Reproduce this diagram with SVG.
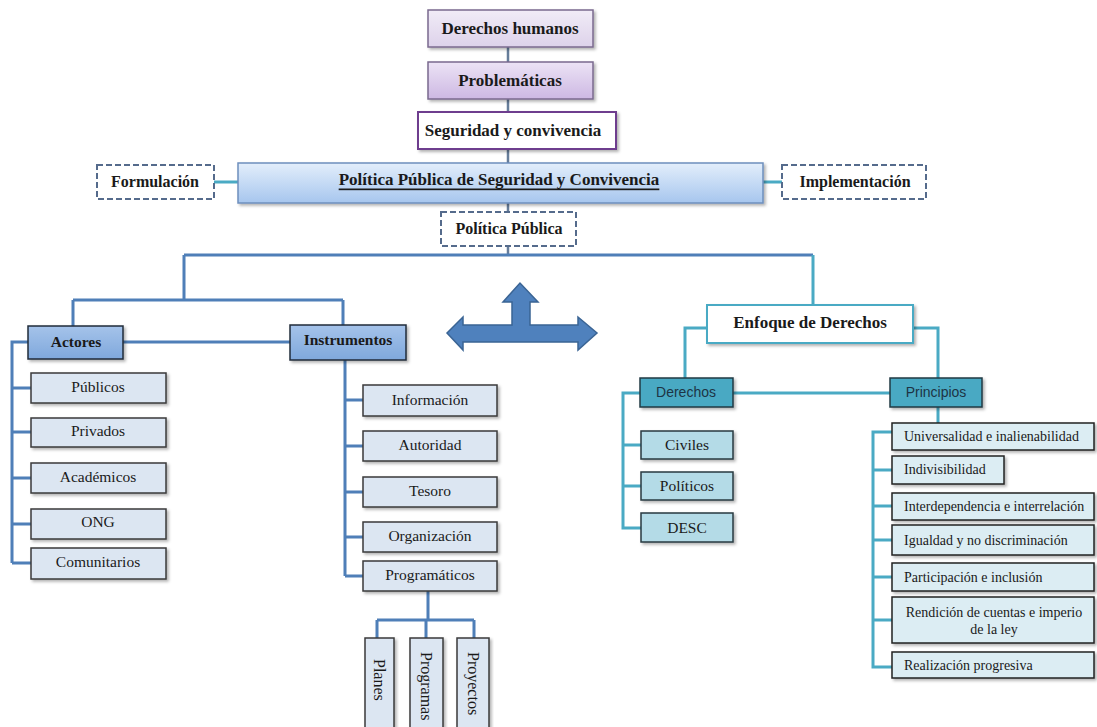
<svg xmlns="http://www.w3.org/2000/svg" width="1097" height="727" viewBox="0 0 1097 727">
<defs>
<linearGradient id="gPurp1" x1="0" y1="0" x2="0" y2="1"><stop offset="0" stop-color="#f1ecf7"/><stop offset="1" stop-color="#ddd2ea"/></linearGradient>
<linearGradient id="gPurp2" x1="0" y1="0" x2="0" y2="1"><stop offset="0" stop-color="#ece3f5"/><stop offset="1" stop-color="#cdb8e3"/></linearGradient>
<linearGradient id="gBlue" x1="0" y1="0" x2="0" y2="1"><stop offset="0" stop-color="#e3eefb"/><stop offset="1" stop-color="#a7c6ee"/></linearGradient>
<linearGradient id="gAct" x1="0" y1="0" x2="0" y2="1"><stop offset="0" stop-color="#a5c3ea"/><stop offset="1" stop-color="#7fa8dc"/></linearGradient>
<filter id="sh" x="-10%" y="-20%" width="125%" height="150%"><feDropShadow dx="2" dy="2" stdDeviation="1.5" flood-color="#000" flood-opacity="0.3"/></filter>
</defs>
<style>
text{font-family:"Liberation Serif","Times New Roman",serif;fill:#1a1a1a;text-anchor:middle;dominant-baseline:central}
.b{font-weight:bold;font-size:17px}
.b16{font-weight:bold;font-size:16px}
.b15{font-weight:bold;font-size:15.5px}
.n{font-size:15.5px}
.v{font-size:16px}
.s{font-size:14px}
.l{text-anchor:start}
.sans{font-family:"Liberation Sans",Arial,sans-serif;font-size:14px;fill:#1d3445}
.dash{fill:#fff;stroke:#556b8c;stroke-width:2;stroke-dasharray:6 3}
.act{fill:url(#gAct);stroke:#1f2b3a;stroke-width:1.5;filter:url(#sh)}
.ch{fill:#dce6f2;stroke:#3a3a3a;stroke-width:1.5;filter:url(#sh)}
.teal{fill:#4aa9c3;stroke:#1f3a44;stroke-width:1.5;filter:url(#sh)}
.tch{fill:#b4dbe7;stroke:#2a3a40;stroke-width:1.5;filter:url(#sh)}
.pch{fill:#dcedf3;stroke:#222;stroke-width:1.5;filter:url(#sh)}
.cg{fill:none;stroke:#667d9a;stroke-width:2.5}
.cb{fill:none;stroke:#4f7fb8;stroke-width:3}
.ct{fill:none;stroke:#4aaac4;stroke-width:3}
</style>
<g id="connectors">
<path class="cg" d="M508 47V62M508 99V112M508 149V163M508 203V212M508 246V255"/>
<path class="ct" d="M214 182H238M763 182H782"/>
<path class="cb" d="M184 255H813M184 255V300M73 300H343M73 300V326M343 300V326M123 342H290"/>
<path class="cb" d="M28 342H12V563M12 388H31M12 432H31M12 478H31M12 524H31M12 563H31"/>
<path class="cb" d="M345 360V576M345 400H363M345 446H363M345 492H363M345 537H363M345 576H363"/>
<path class="cb" d="M428 591V620M377 620H474M377 620V638M426 620V638M474 620V638"/>
<path class="ct" d="M813 255V305M707 328H685V378M913 328H938V378M733 393H890"/>
<path class="ct" d="M640 393H623V528H641M623 445H641M623 486H641"/>
<path class="ct" d="M938 407V423M892 432H873V667H892M873 470H892M873 506H892M873 540H892M873 577H892M873 620H892"/>
</g>
<g id="n-derechos-humanos"><rect x="428" y="10" width="165" height="37" fill="url(#gPurp1)" stroke="#7a6a8e" stroke-width="1.5" filter="url(#sh)"/><text class="b" x="510" y="28">Derechos humanos</text></g>
<g id="n-problematicas"><rect x="428" y="62" width="165" height="37" fill="url(#gPurp2)" stroke="#7a6a8e" stroke-width="1.5" filter="url(#sh)"/><text class="b" x="510" y="80">Problemáticas</text></g>
<g id="n-seguridad"><rect x="418" y="112" width="198" height="37" fill="#fff" stroke="#6e3d8e" stroke-width="2" filter="url(#sh)"/><text class="b" x="513" y="130">Seguridad y convivencia</text></g>
<g id="n-politica-main"><rect x="238" y="163" width="525" height="40" fill="url(#gBlue)" stroke="#6d8fbd" stroke-width="1.5" filter="url(#sh)"/><text class="b" x="499" y="179" style="text-decoration:underline">Política Pública de Seguridad y Convivencia</text></g>
<g id="n-formulacion"><rect class="dash" x="97" y="165" width="117" height="34"/><text class="b16" x="155" y="181">Formulación</text></g>
<g id="n-implementacion"><rect class="dash" x="782" y="165" width="144" height="34"/><text class="b16" x="855" y="181">Implementación</text></g>
<g id="n-politica-publica"><rect class="dash" x="441" y="212" width="135" height="34"/><text class="b16" x="509" y="228">Política Pública</text></g>
<g id="n-arrow"><path d="M447 333L463 317V325H512V302H503L520 283L538 302H530V325H578V317L597 333L578 350V342H463V350Z" fill="#4f81bd" stroke="#3a6494" stroke-width="1.5"/></g>
<g id="n-actores"><rect class="act" x="28" y="326" width="95" height="33"/><text class="b15" x="76" y="341">Actores</text></g>
<g id="n-instrumentos"><rect class="act" x="290" y="325" width="116" height="35"/><text class="b15" x="348" y="339">Instrumentos</text></g>
<g id="n-publicos"><rect class="ch" x="31" y="373" width="135" height="30"/><text class="n" x="98" y="386">Públicos</text></g>
<g id="n-privados"><rect class="ch" x="31" y="418" width="135" height="29"/><text class="n" x="98" y="430">Privados</text></g>
<g id="n-academicos"><rect class="ch" x="31" y="463" width="135" height="30"/><text class="n" x="98" y="476">Académicos</text></g>
<g id="n-ong"><rect class="ch" x="31" y="509" width="135" height="30"/><text class="n" x="98" y="521">ONG</text></g>
<g id="n-comunitarios"><rect class="ch" x="31" y="548" width="135" height="31"/><text class="n" x="98" y="561">Comunitarios</text></g>
<g id="n-informacion"><rect class="ch" x="363" y="385" width="134" height="31"/><text class="n" x="430" y="399">Información</text></g>
<g id="n-autoridad"><rect class="ch" x="363" y="431" width="134" height="30"/><text class="n" x="430" y="444">Autoridad</text></g>
<g id="n-tesoro"><rect class="ch" x="363" y="477" width="134" height="30"/><text class="n" x="430" y="490">Tesoro</text></g>
<g id="n-organizacion"><rect class="ch" x="363" y="522" width="134" height="30"/><text class="n" x="430" y="535">Organización</text></g>
<g id="n-programaticos"><rect class="ch" x="363" y="561" width="134" height="30"/><text class="n" x="430" y="574">Programáticos</text></g>
<g id="n-planes"><rect class="ch" x="365" y="638" width="29" height="100"/><text class="v l" x="379" y="659" transform="rotate(90 379 659)">Planes</text></g>
<g id="n-programas"><rect class="ch" x="410" y="638" width="33" height="100"/><text class="v l" x="426" y="652" transform="rotate(90 426 652)">Programas</text></g>
<g id="n-proyectos"><rect class="ch" x="457" y="638" width="32" height="100"/><text class="v l" x="473" y="652" transform="rotate(90 473 652)">Proyectos</text></g>
<g id="n-enfoque"><rect x="707" y="305" width="206" height="38" fill="#fff" stroke="#4aaac4" stroke-width="2" filter="url(#sh)"/><text class="b" x="810" y="322">Enfoque de Derechos</text></g>
<g id="n-derechos"><rect class="teal" x="640" y="378" width="93" height="29"/><text class="sans" x="686" y="392">Derechos</text></g>
<g id="n-principios"><rect class="teal" x="890" y="378" width="92" height="29"/><text class="sans" x="936" y="392">Principios</text></g>
<g id="n-civiles"><rect class="tch" x="641" y="431" width="92" height="28"/><text class="n" x="687" y="444">Civiles</text></g>
<g id="n-politicos"><rect class="tch" x="641" y="472" width="92" height="28"/><text class="n" x="687" y="485">Políticos</text></g>
<g id="n-desc"><rect class="tch" x="641" y="513" width="92" height="29"/><text class="n" x="687" y="527">DESC</text></g>
<g id="n-universalidad"><rect class="pch" x="892" y="423" width="202" height="27"/><text class="s l" x="904" y="436">Universalidad e inalienabilidad</text></g>
<g id="n-indivisibilidad"><rect class="pch" x="892" y="456" width="112" height="28"/><text class="s l" x="904" y="469">Indivisibilidad</text></g>
<g id="n-interdependencia"><rect class="pch" x="892" y="493" width="202" height="27"/><text class="s l" x="904" y="506">Interdependencia e interrelación</text></g>
<g id="n-igualdad"><rect class="pch" x="892" y="525" width="202" height="30"/><text class="s l" x="904" y="540">Igualdad y no discriminación</text></g>
<g id="n-participacion"><rect class="pch" x="892" y="563" width="202" height="28"/><text class="s l" x="904" y="577">Participación e inclusión</text></g>
<g id="n-rendicion"><rect class="pch" x="892" y="597" width="202" height="46"/><text class="s" x="994" y="612">Rendición de cuentas e imperio</text><text class="s" x="994" y="629">de la ley</text></g>
<g id="n-realizacion"><rect class="pch" x="892" y="652" width="202" height="26"/><text class="s l" x="904" y="665">Realización progresiva</text></g>
</svg>
